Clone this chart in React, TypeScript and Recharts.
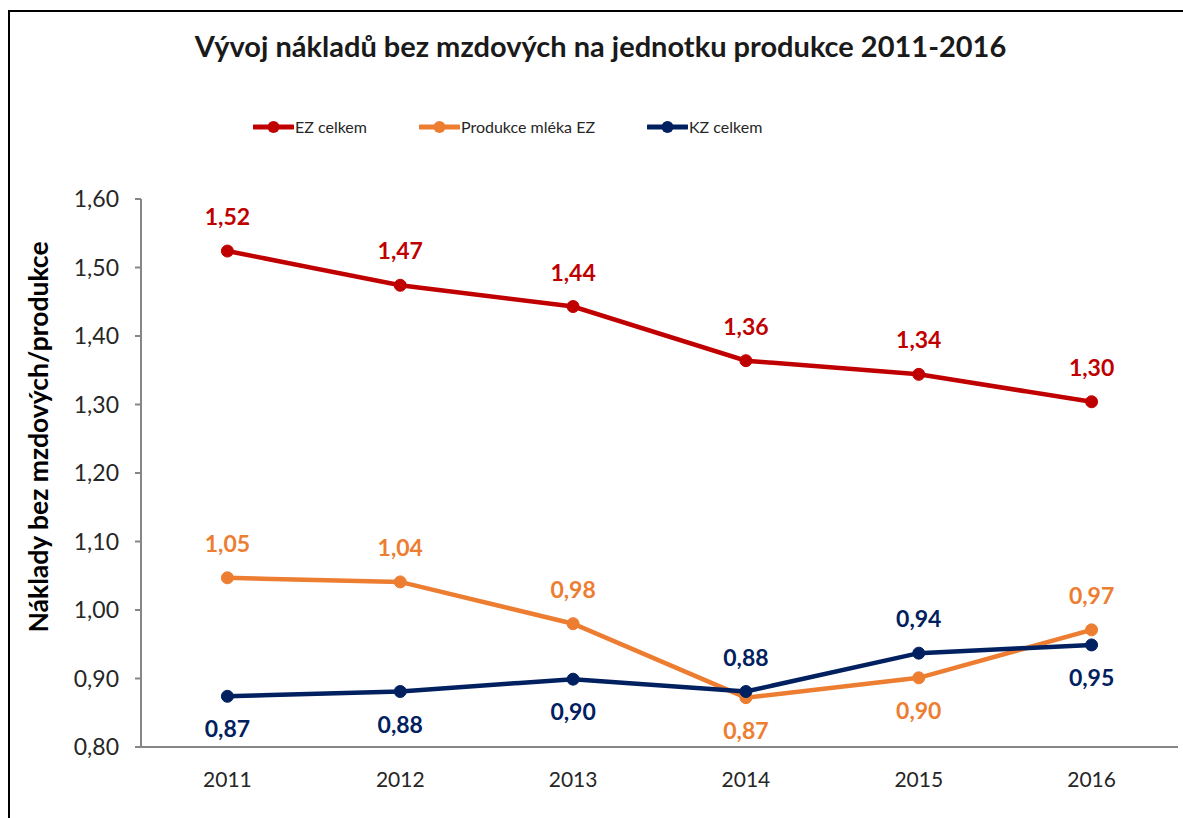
import React from 'react';
import { LineChart, Line, XAxis, YAxis, LabelList } from 'recharts';

const years = ['2011', '2012', '2013', '2014', '2015', '2016'];
const ezCelkem = [1.524, 1.474, 1.443, 1.364, 1.344, 1.304];
const mlekoEz = [1.047, 1.041, 0.98, 0.872, 0.901, 0.971];
const kzCelkem = [0.874, 0.881, 0.899, 0.881, 0.937, 0.949];
const yTicks = [0.8, 0.9, 1.0, 1.1, 1.2, 1.3, 1.4, 1.5, 1.6];
const boundaryTicks = [0, 1, 2, 3, 4, 5, 6];

// where each value label sits relative to its point
const ezLabelPos = ['top', 'top', 'top', 'top', 'top', 'top'];
const mlekoLabelPos = ['top', 'top', 'top', 'bottom', 'bottom', 'top'];
const kzLabelPos = ['bottom', 'bottom', 'bottom', 'top', 'top', 'bottom'];

const series = [
    { key: 'ez', name: 'EZ celkem', color: '#C00000', values: ezCelkem, pos: ezLabelPos },
    { key: 'mleko', name: 'Produkce mléka EZ', color: '#ED7D31', values: mlekoEz, pos: mlekoLabelPos },
    { key: 'kz', name: 'KZ celkem', color: '#002060', values: kzCelkem, pos: kzLabelPos },
];

const data = years.map((year, i) => ({
    year,
    ez: ezCelkem[i],
    mleko: mlekoEz[i],
    kz: kzCelkem[i],
}));

const FONT = 'Lato, "Open Sans", sans-serif';
const fmt = (v: number) => v.toFixed(2).replace('.', ',');

const PLOT_W = 1173 - 131 - 5;
const HALF_BAND = PLOT_W / years.length / 2;

const makeLabel = (color: string, pos: string[]) => (props: any) => {
    const { x, y, value, index } = props;
    const above = pos[index] === 'top';
    return (
        <text
            x={x}
            y={above ? y - 26 : y + 41}
            textAnchor="middle"
            fill={color}
            fontFamily={FONT}
            fontWeight={700}
            fontSize={23}
        >
            {fmt(value)}
        </text>
    );
};

const YLabel = (props: any) => {
    const { viewBox } = props;
    const cx = viewBox.x + 28;
    const cy = viewBox.y + viewBox.height / 2 - 36;
    return (
        <text
            x={cx}
            y={cy}
            transform={`rotate(-90, ${cx}, ${cy})`}
            textAnchor="middle"
            dominantBaseline="central"
            fontFamily={FONT}
            fontWeight={700}
            fontSize={26.5}
            fill="#000"
        >
            Náklady bez mzdových/produkce
        </text>
    );
};

const LegendMarker = ({ color }: { color: string }) => (
    <svg width={41} height={14} style={{ display: 'block' }}>
        <line x1={1} y1={7} x2={40} y2={7} stroke={color} strokeWidth={5} strokeLinecap="round" />
        <circle cx={20.5} cy={7} r={6} fill={color} />
    </svg>
);

export default function App() {
    return (
        <div
            style={{
                position: 'fixed',
                top: 10,
                left: 8,
                width: 1200,
                height: 820,
                borderTop: '2px solid #000',
                borderLeft: '2px solid #000',
                fontFamily: FONT,
                background: '#fff',
            }}
        >
            <div
                style={{
                    position: 'absolute',
                    top: 16,
                    left: 4,
                    width: 1173,
                    textAlign: 'center',
                    fontSize: 29,
                    fontWeight: 700,
                    color: '#1a1a1a',
                    whiteSpace: 'nowrap',
                }}
            >
                Vývoj nákladů bez mzdových na jednotku produkce 2011-2016
            </div>

            <div
                style={{
                    position: 'absolute',
                    top: 105,
                    left: 243,
                    display: 'flex',
                    alignItems: 'center',
                    gap: 52,
                    fontSize: 16,
                    color: '#262626',
                    whiteSpace: 'nowrap',
                }}
            >
                {series.map((s) => (
                    <div key={s.key} style={{ display: 'flex', alignItems: 'center', gap: 1 }}>
                        <LegendMarker color={s.color} />
                        <span>{s.name}</span>
                    </div>
                ))}
            </div>

            <div style={{ position: 'absolute', top: 0, left: 0 }}>
                <LineChart width={1173} height={800} data={data} margin={{ top: 187, right: 5, left: 0, bottom: 30 }}>
                    <XAxis
                        xAxisId="a"
                        type="number"
                        domain={[0, 6]}
                        ticks={boundaryTicks}
                        tick={false}
                        tickSize={8}
                        height={1}
                        axisLine={{ stroke: '#868686', strokeWidth: 2 }}
                        tickLine={{ stroke: '#868686', strokeWidth: 2 }}
                    />
                    <XAxis
                        xAxisId="b"
                        dataKey="year"
                        height={34}
                        padding={{ left: HALF_BAND, right: HALF_BAND }}
                        axisLine={false}
                        tickLine={false}
                        tickSize={8}
                        tickMargin={16}
                        tick={{ fill: '#262626', fontSize: 21, fontFamily: FONT }}
                    />
                    <YAxis
                        width={131}
                        domain={[0.8, 1.6]}
                        ticks={yTicks}
                        tickFormatter={fmt}
                        tickSize={6}
                        tickMargin={16}
                        interval={0}
                        axisLine={{ stroke: '#868686', strokeWidth: 2 }}
                        tickLine={{ stroke: '#868686', strokeWidth: 2 }}
                        tick={{ fill: '#262626', fontSize: 23, fontFamily: FONT }}
                        label={<YLabel />}
                    />
                    {series.map((s) => (
                        <Line
                            key={s.key}
                            xAxisId="b"
                            dataKey={s.key}
                            name={s.name}
                            stroke={s.color}
                            strokeWidth={4.5}
                            dot={{ r: 6, fill: s.color, stroke: s.color, strokeWidth: 1 }}
                            activeDot={false}
                            isAnimationActive={false}
                        >
                            <LabelList dataKey={s.key} content={makeLabel(s.color, s.pos)} />
                        </Line>
                    ))}
                </LineChart>
            </div>
        </div>
    );
}
